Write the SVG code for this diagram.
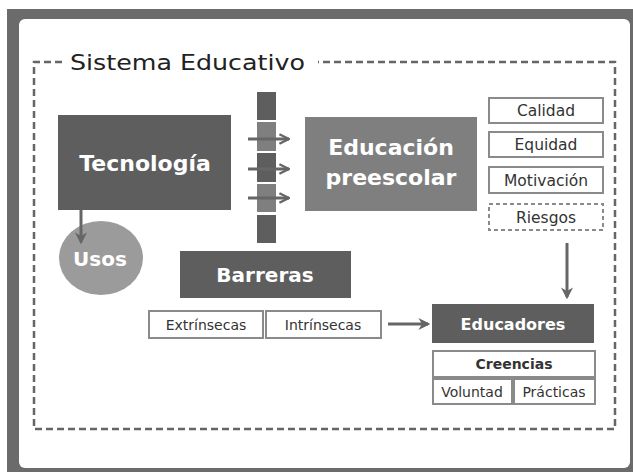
<svg xmlns="http://www.w3.org/2000/svg" width="633" height="475" viewBox="0 0 633 475">
<defs>
<style>
.dark{fill:#5e5e5e}
.mid{fill:#7f7f7f}
.light{fill:#9b9b9b}
.wt{font-family:"DejaVu Sans",sans-serif;font-weight:bold;fill:#ffffff;text-anchor:middle}
.box{fill:#ffffff;stroke:#8a8a8a;stroke-width:2}
.lbl{font-family:"DejaVu Sans",sans-serif;font-size:14px;fill:#333333;text-anchor:middle}
.lbl2{font-family:"DejaVu Sans",sans-serif;font-size:15.5px;fill:#333333;text-anchor:middle}
.con{stroke:#666666;stroke-width:3;fill:none}
</style>
<marker id="ah" viewBox="0 0 10 10" refX="9" refY="5" markerWidth="4" markerHeight="4" orient="auto" markerUnits="strokeWidth">
<path d="M1,1 L9,5 L1,9" fill="none" stroke="#666666" stroke-width="2"/>
</marker>
<marker id="ahs" viewBox="0 0 10 10" refX="8" refY="5" markerWidth="4" markerHeight="4" orient="auto" markerUnits="strokeWidth">
<path d="M0,0 L10,5 L0,10 L3,5 Z" fill="#666666"/>
</marker>
</defs>
<rect x="7" y="9" width="626" height="463" fill="#6b6b6b"/>
<rect x="19" y="19" width="611" height="449" rx="6" fill="#ffffff"/>
<g id="sistema">
<path d="M62,62 H34 V429 H615 V62 H318" fill="none" stroke="#666666" stroke-width="2.5" stroke-dasharray="7,4"/>
<text x="70" y="70" font-family="DejaVu Sans,sans-serif" font-size="21" fill="#222222" textLength="235" lengthAdjust="spacingAndGlyphs">Sistema Educativo</text>
</g>
<g id="tecnologia">
<rect x="58" y="115" width="173" height="95" class="dark"/>
<text x="145" y="171" class="wt" font-size="22">Tecnología</text>
</g>
<g id="usos">
<ellipse cx="101" cy="258" rx="42" ry="37" class="light"/>
<text x="100" y="266" class="wt" font-size="20">Usos</text>
</g>
<g id="barra">
<rect x="257" y="92" width="19" height="28" class="dark"/>
<rect x="257" y="122" width="19" height="29" class="mid"/>
<rect x="257" y="153" width="19" height="29" class="dark"/>
<rect x="257" y="184" width="19" height="28" class="mid"/>
<rect x="257" y="215" width="19" height="28" class="dark"/>
</g>
<g id="educacion">
<rect x="305" y="117" width="172" height="94" class="mid"/>
<text x="391" y="155" class="wt" font-size="22">Educación</text>
<text x="391" y="185" class="wt" font-size="22">preescolar</text>
</g>
<g id="calidad">
<rect x="489" y="98" width="114" height="25" class="box"/>
<text x="546" y="116" class="lbl2">Calidad</text>
</g>
<g id="equidad">
<rect x="489" y="132" width="114" height="25" class="box"/>
<text x="546" y="150" class="lbl2">Equidad</text>
</g>
<g id="motivacion">
<rect x="489" y="167" width="114" height="26" class="box"/>
<text x="546" y="186" class="lbl2">Motivación</text>
</g>
<g id="riesgos">
<rect x="489" y="204" width="114" height="26" class="box" stroke="#444444" stroke-dasharray="4,3"/>
<text x="546" y="223" class="lbl2">Riesgos</text>
</g>
<g id="barreras">
<rect x="180" y="251" width="171" height="47" class="dark"/>
<text x="265" y="282" class="wt" font-size="20">Barreras</text>
</g>
<g id="extrinsecas">
<rect x="149" y="311" width="114" height="27" class="box"/>
<text x="206" y="330" class="lbl">Extrínsecas</text>
</g>
<g id="intrinsecas">
<rect x="266" y="311" width="115" height="27" class="box"/>
<text x="323" y="330" class="lbl">Intrínsecas</text>
</g>
<g id="educadores">
<rect x="432" y="304" width="162" height="39" class="dark"/>
<text x="513" y="330" class="wt" font-size="16">Educadores</text>
</g>
<g id="creencias">
<rect x="433" y="351" width="162" height="26" class="box"/>
<text x="514" y="369" class="lbl" font-weight="bold" fill="#222222">Creencias</text>
</g>
<g id="voluntad">
<rect x="433" y="379" width="79" height="25" class="box"/>
<text x="472" y="397" class="lbl">Voluntad</text>
</g>
<g id="practicas">
<rect x="514" y="379" width="81" height="25" class="box"/>
<text x="554" y="397" class="lbl">Prácticas</text>
</g>
<g id="connectors">
<line x1="81" y1="210" x2="81" y2="242" class="con" marker-end="url(#ahs)"/>
<line x1="248" y1="139" x2="289" y2="139" class="con" marker-end="url(#ah)"/>
<line x1="248" y1="169" x2="289" y2="169" class="con" marker-end="url(#ah)"/>
<line x1="248" y1="198" x2="289" y2="198" class="con" marker-end="url(#ah)"/>
<line x1="567" y1="243" x2="567" y2="297" class="con" stroke-width="2" marker-end="url(#ahs)"/>
<line x1="388" y1="324" x2="428" y2="324" class="con" marker-end="url(#ahs)"/>
</g>
</svg>
